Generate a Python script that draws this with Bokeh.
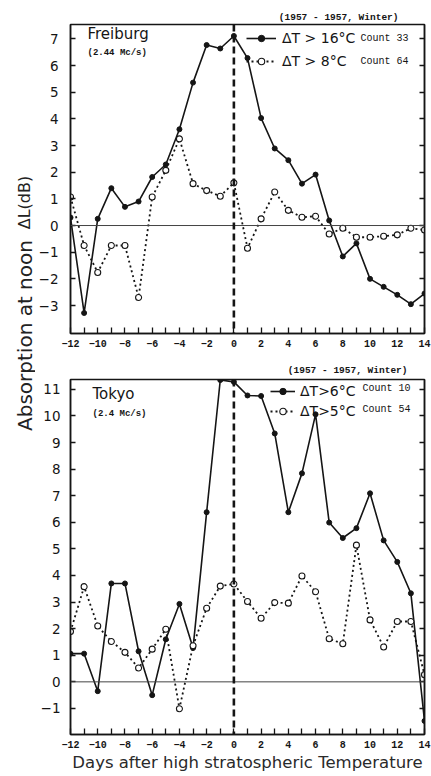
from bokeh.plotting import figure
from bokeh.models import (Range1d, FixedTicker, LinearAxis, Span, Label,
                          Legend, LegendItem)
from bokeh.layouts import row, column
from bokeh.embed import file_html
from bokeh.resources import INLINE

# ---------------- data ----------------
days = list(range(-12, 15))

freiburg_dT16 = [0.3, -3.28, 0.25, 1.4, 0.7, 0.9, 1.82, 2.29, 3.61, 5.36, 6.77, 6.64, 7.11,
                 6.28, 4.03, 2.89, 2.45, 1.57, 1.91, 0.19, -1.16, -0.67, -2.0, -2.3, -2.6,
                 -2.95, -2.55]
freiburg_dT8 = [1.07, -0.75, -1.76, -0.75, -0.75, -2.7, 1.07, 2.07, 3.25, 1.57, 1.31, 1.1, 1.6,
                -0.85, 0.25, 1.26, 0.57, 0.31, 0.35, -0.32, -0.1, -0.44, -0.44, -0.4, -0.35,
                -0.1, -0.17]
tokyo_dT6 = [1.06, 1.06, -0.35, 3.7, 3.7, 1.15, -0.5, 1.6, 2.93, 1.27, 6.38, 11.35, 11.28,
             10.77, 10.75, 9.34, 6.38, 7.84, 10.06, 5.99, 5.41, 5.78, 7.09, 5.32, 4.51, 3.33,
             -1.47]
tokyo_dT5 = [1.89, 3.58, 2.1, 1.52, 1.11, 0.52, 1.23, 1.98, -1.01, 1.36, 2.77, 3.6, 3.68,
             3.02, 2.39, 2.98, 2.96, 3.98, 3.39, 1.62, 1.43, 5.14, 2.33, 1.31, 2.27, 2.27, 0.27]

x_major_ticks = list(range(-12, 15, 2))
x_minor_ticks = list(range(-11, 14, 2))
freiburg_yticks = list(range(-3, 8))
tokyo_yticks = list(range(-1, 12))

y_title_main = "Absorption at noon"
y_title_unit = "\u0394L(dB)"
x_title = "Days after high stratospheric Temperature"
header = "(1957 - 1957, Winter)"

INK = "#151515"
SANS = "DejaVu Sans"
MONO = "Liberation Mono"


def make_panel(width, height, left, top, bottom, yr, yticks, x_label,
               head_offset, head_standoff, ylab_standoff):
    p = figure(width=width, height=height, output_backend="svg", toolbar_location=None,
               x_range=Range1d(-12, 14), y_range=Range1d(*yr),
               min_border_left=left, min_border_right=7, min_border_top=top,
               min_border_bottom=bottom, background_fill_color="white",
               border_fill_color="white", outline_line_color=INK, outline_line_width=1.5)
    p.title.text = header
    p.title.align = "right"
    p.title.offset = head_offset
    p.title.standoff = head_standoff
    p.title.text_font = MONO
    p.title.text_font_size = "9.5px"
    p.title.text_font_style = "bold"
    p.title.text_color = INK
    p.grid.visible = False
    p.xaxis.ticker = FixedTicker(ticks=x_major_ticks, minor_ticks=x_minor_ticks)
    p.yaxis.ticker = FixedTicker(ticks=yticks)
    for ax in p.xaxis:
        ax.major_tick_in = 6
        ax.major_tick_out = 0
        ax.minor_tick_in = 6
        ax.minor_tick_out = 0
        ax.major_tick_line_width = 1.3
        ax.minor_tick_line_width = 1.3
        ax.major_tick_line_color = INK
        ax.minor_tick_line_color = INK
        ax.axis_line_width = 1.5
        ax.axis_line_color = INK
        ax.major_label_text_font = MONO
        ax.major_label_text_font_style = "bold"
        ax.major_label_text_font_size = "10px"
        ax.major_label_text_color = INK
        ax.major_label_standoff = 6
        if x_label:
            ax.axis_label = x_title
            ax.axis_label_text_font = SANS
            ax.axis_label_text_font_style = "normal"
            ax.axis_label_text_font_size = "16.5px"
            ax.axis_label_text_color = "#2a2a2a"
            ax.axis_label_standoff = 2
    for ax in p.yaxis:
        ax.major_tick_in = 5
        ax.major_tick_out = 0
        ax.minor_tick_line_color = None
        ax.major_tick_line_width = 1.3
        ax.major_tick_line_color = INK
        ax.axis_line_width = 1.5
        ax.axis_line_color = INK
        ax.major_label_text_font = SANS
        ax.major_label_text_font_size = "13.5px"
        ax.major_label_text_color = INK
        ax.major_label_standoff = ylab_standoff
    right = LinearAxis(ticker=FixedTicker(ticks=yticks), major_tick_in=5, major_tick_out=0,
                       minor_tick_line_color=None,
                       major_label_overrides={t: "" for t in yticks},
                       major_label_standoff=0, axis_line_width=1.5, axis_line_color=INK,
                       major_tick_line_color=INK, major_tick_line_width=1.3)
    p.add_layout(right, "right")
    p.add_layout(Span(location=0, dimension="width", line_color="#444444", line_width=1))
    p.add_layout(Span(location=0, dimension="height", line_color=INK, line_width=2.6,
                      line_dash="7 4"))
    return p


def add_series(p, solid_vals, dotted_vals):
    l1 = p.line(days, solid_vals, line_color=INK, line_width=1.6)
    s1 = p.scatter(days, solid_vals, marker="circle", size=5, fill_color=INK,
                   line_color=INK, line_width=1)
    l2 = p.line(days, dotted_vals, line_color=INK, line_width=1.8, line_dash="2 3")
    s2 = p.scatter(days, dotted_vals, marker="circle", size=6, fill_color="white",
                   line_color=INK, line_width=1.1)
    return (l1, s1), (l2, s2)


def add_text(p, text, x, y, size, font=SANS, align="left", bold=False):
    p.add_layout(Label(x=x, y=y, x_units="screen", y_units="screen", text=text,
                       text_font=font, text_font_size=size, text_color=INK,
                       text_align=align, text_baseline="middle",
                       text_font_style="bold" if bold else "normal"))


# ---------------- top panel: Freiburg ----------------
top = make_panel(396, 358, 32, 24, 25, (-4.05, 7.54), freiburg_yticks, False, 26, 4, 12)
(a1, a2), (b1, b2) = add_series(top, freiburg_dT16, freiburg_dT8)
leg_top = Legend(items=[LegendItem(label="\u0394T > 16\u00b0C", renderers=[a1, a2]),
                        LegendItem(label="\u0394T > 8\u00b0C", renderers=[b1, b2])],
                 location=(176, 262), orientation="vertical", padding=0, margin=0,
                 spacing=3, label_height=20, glyph_height=16, glyph_width=30,
                 label_standoff=6, label_text_font=SANS, label_text_font_size="14px",
                 label_text_color=INK, background_fill_alpha=0, border_line_color=None)
top.add_layout(leg_top)
add_text(top, "Freiburg", 17, 300, "15px")
add_text(top, "(2.44 Mc/s)", 17, 281, "9px", MONO, bold=True)
add_text(top, "Count 33", 290, 295, "10px", MONO)
add_text(top, "Count 64", 290, 272, "10px", MONO)

# ---------------- bottom panel: Tokyo ----------------
bot = make_panel(396, 418, 28, 20, 42, (-1.98, 11.37), tokyo_yticks, True, 17, 8, 10)
(c1, c2), (d1, d2) = add_series(bot, tokyo_dT6, tokyo_dT5)
leg_bot = Legend(items=[LegendItem(label="\u0394T>6\u00b0C", renderers=[c1, c2]),
                        LegendItem(label="\u0394T>5\u00b0C", renderers=[d1, d2])],
                 location=(200, 313), orientation="vertical", padding=0, margin=0,
                 spacing=0, label_height=20, glyph_height=16, glyph_width=25,
                 label_standoff=5, label_text_font=SANS, label_text_font_size="14px",
                 label_text_color=INK, background_fill_alpha=0, border_line_color=None)
bot.add_layout(leg_bot)
add_text(bot, "Tokyo", 22, 341, "15px")
add_text(bot, "(2.4 Mc/s)", 22, 321, "9px", MONO, bold=True)
add_text(bot, "Count 10", 292, 346, "10px", MONO)
add_text(bot, "Count 54", 292, 325, "10px", MONO)

# ---------------- shared y title ----------------
yt = figure(width=35, height=776, output_backend="svg", toolbar_location=None,
            x_axis_location=None, y_axis_location=None, min_border=0,
            outline_line_color=None, background_fill_color="white",
            border_fill_color="white", x_range=Range1d(0, 1), y_range=Range1d(0, 1))
yt.grid.visible = False
yt.add_layout(Label(x=24, y=441, x_units="screen", y_units="screen", text=y_title_main,
                    angle=90, angle_units="deg", text_align="center",
                    text_baseline="middle", text_font=SANS, text_font_size="20px",
                    text_color="#222222"))
yt.add_layout(Label(x=24, y=574, x_units="screen", y_units="screen", text=y_title_unit,
                    angle=90, angle_units="deg", text_align="center",
                    text_baseline="middle", text_font=SANS, text_font_size="16px",
                    text_color="#222222"))

layout = row(yt, column(top, bot))
open("out.html", "w").write(file_html(layout, INLINE))
